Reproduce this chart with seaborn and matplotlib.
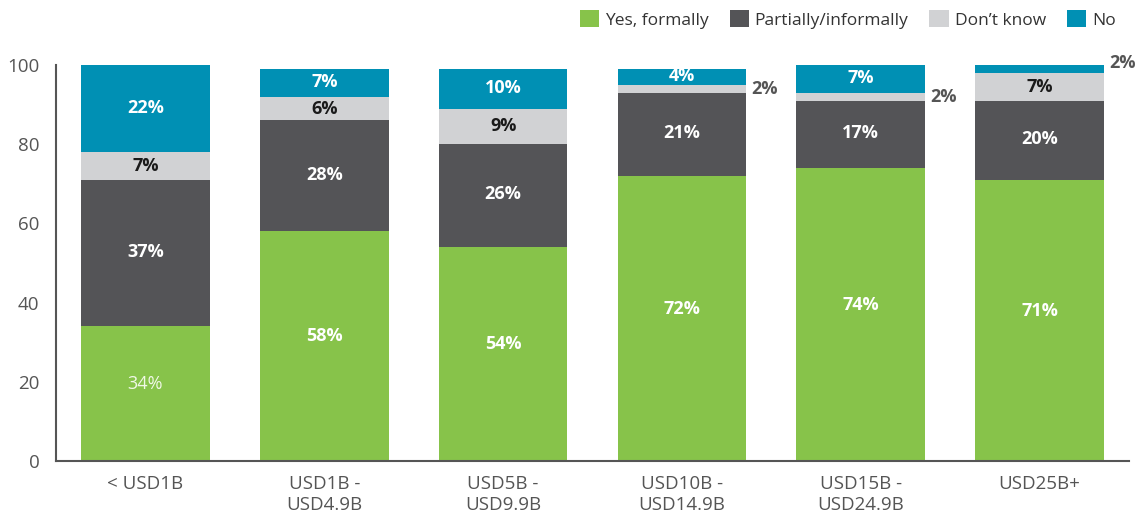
import numpy as np
import pandas as pd
import matplotlib.pyplot as plt
import seaborn as sns
from matplotlib.patches import Patch

# data
cats = ["< USD1B", "USD1B -\nUSD4.9B", "USD5B -\nUSD9.9B", "USD10B -\nUSD14.9B", "USD15B -\nUSD24.9B", "USD25B+"]
yes = [34, 58, 54, 72, 74, 71]
partial = [37, 28, 26, 21, 17, 20]
dont_know = [7, 6, 9, 2, 2, 7]
no = [22, 7, 10, 4, 7, 2]

series = ["Yes, formally", "Partially/informally", "Don\u2019t know", "No"]
colors = ["#87c34a", "#545457", "#d1d2d4", "#0090b4"]
vals = [yes, partial, dont_know, no]

sns.set_style("white")
plt.rcParams['font.family'] = ['Open Sans', 'DejaVu Sans']

fig = plt.figure(figsize=(11.45, 5.2), dpi=100)
ax = fig.add_axes([56/1145, 59/520, 1073/1145, 396/520])

bw = 0.72
# cumulative tops, drawn tallest first so lower segments sit on top
cum = np.cumsum(np.array(vals), axis=0)
for i in range(3, -1, -1):
    df = pd.DataFrame({"cat": cats, "val": cum[i]})
    sns.barplot(data=df, x="cat", y="val", order=cats, color=colors[i],
                width=bw, saturation=1, ax=ax, linewidth=0)

# segment labels
txt_col = ["white", "white", "#1a1a1a", "white"]
nudge = [2.5, 0.3, 0, 0.2]
for j in range(len(cats)):
    for i in range(4):
        v = vals[i][j]
        bottom = cum[i][j] - v
        mid = bottom + v / 2
        if v <= 4 and i == 2:
            ax.text(j + bw/2 + 0.03, mid, f"{v}%", ha="left", va="center",
                    fontsize=13, fontweight="bold", color="#555555")
        elif v <= 2:
            ax.text(j + bw/2 + 0.03, mid + 1.5, f"{v}%", ha="left", va="center",
                    fontsize=13, fontweight="bold", color="#555555", clip_on=False)
        else:
            bold = not (i == 0 and j == 0)
            ax.text(j, mid + nudge[i], f"{v}%", ha="center", va="center", fontsize=13,
                    fontweight="bold" if bold else "normal",
                    color="#f0f8e6" if not bold else txt_col[i], clip_on=False)

ax.set_xlim(-0.5, 5.5)
ax.set_ylim(0, 100)
ax.set_yticks([0, 20, 40, 60, 80, 100])
ax.set_xlabel("")
ax.set_ylabel("")
for s in ["top", "right"]:
    ax.spines[s].set_visible(False)
for s in ["left", "bottom"]:
    ax.spines[s].set_color("#555555")
    ax.spines[s].set_linewidth(1.5)
ax.tick_params(axis="y", direction="in", length=7, width=1.5, color="#555555",
               labelsize=13.5, labelcolor="#555555", pad=12)
ax.tick_params(axis="x", length=0, labelsize=13.5, labelcolor="#555555", pad=10)
ax.set_xticks(np.arange(0.5, 5.5, 1), minor=True)
ax.tick_params(axis="x", which="minor", direction="in", length=9, width=1.5, color="#555555")

handles = [Patch(facecolor=c, edgecolor="none") for c in colors]
fig.legend(handles, series, loc="upper right", bbox_to_anchor=(0.988, 1.01), ncol=4,
           frameon=False, fontsize=12.5, handlelength=1.1, handleheight=1.1,
           handletextpad=0.35, columnspacing=1.2, labelcolor="#333333")

fig.savefig("out.png", dpi=100)
